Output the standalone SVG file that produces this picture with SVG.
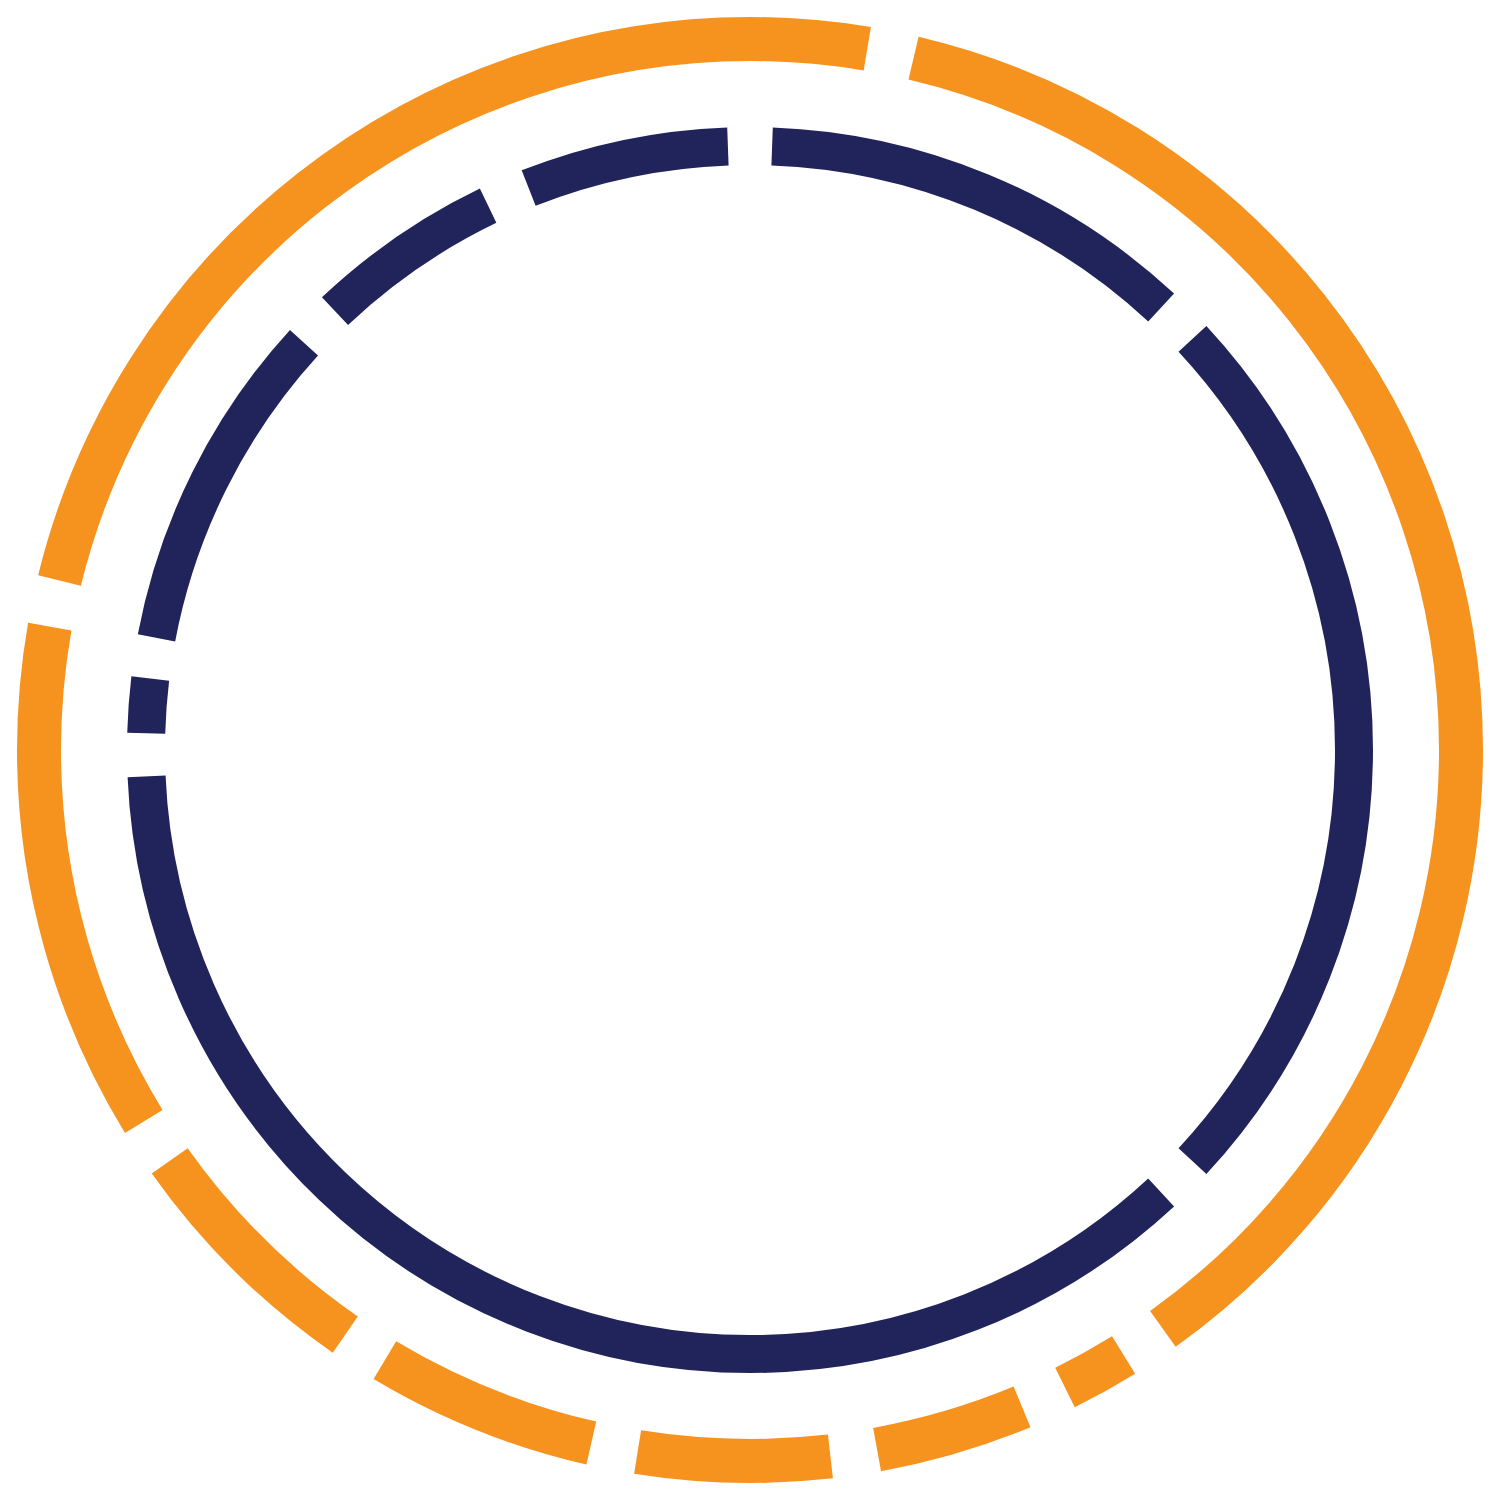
<svg xmlns="http://www.w3.org/2000/svg" width="1500" height="1503" viewBox="0 0 1500 1503">
<style>
.ring{fill:none;stroke-linecap:butt}
.outer{stroke:#F6921E;stroke-width:44}
.inner{stroke:#21245A;stroke-width:38}
</style>
<rect width="1500" height="1503" fill="#fff"/>
<g id="outer-ring">
<circle class="ring outer" cx="750" cy="750" r="711" pathLength="360" stroke-dasharray="54.5 3.8 5.4 3.8 12.2 3.8 15.6 3.8 18 3.8 20 3.8 41.5 3.8 85.7 3.8 76.7"/>
</g>
<g id="inner-ring">
<circle class="ring inner" cx="750" cy="750" r="604" pathLength="360" stroke-dasharray="42.9 4.2 130.4 4.1 5.2 3.9 31.7 4.2 17.7 4.2 19.4 4.2 40.8 4.2 42.9"/>
</g>
</svg>
